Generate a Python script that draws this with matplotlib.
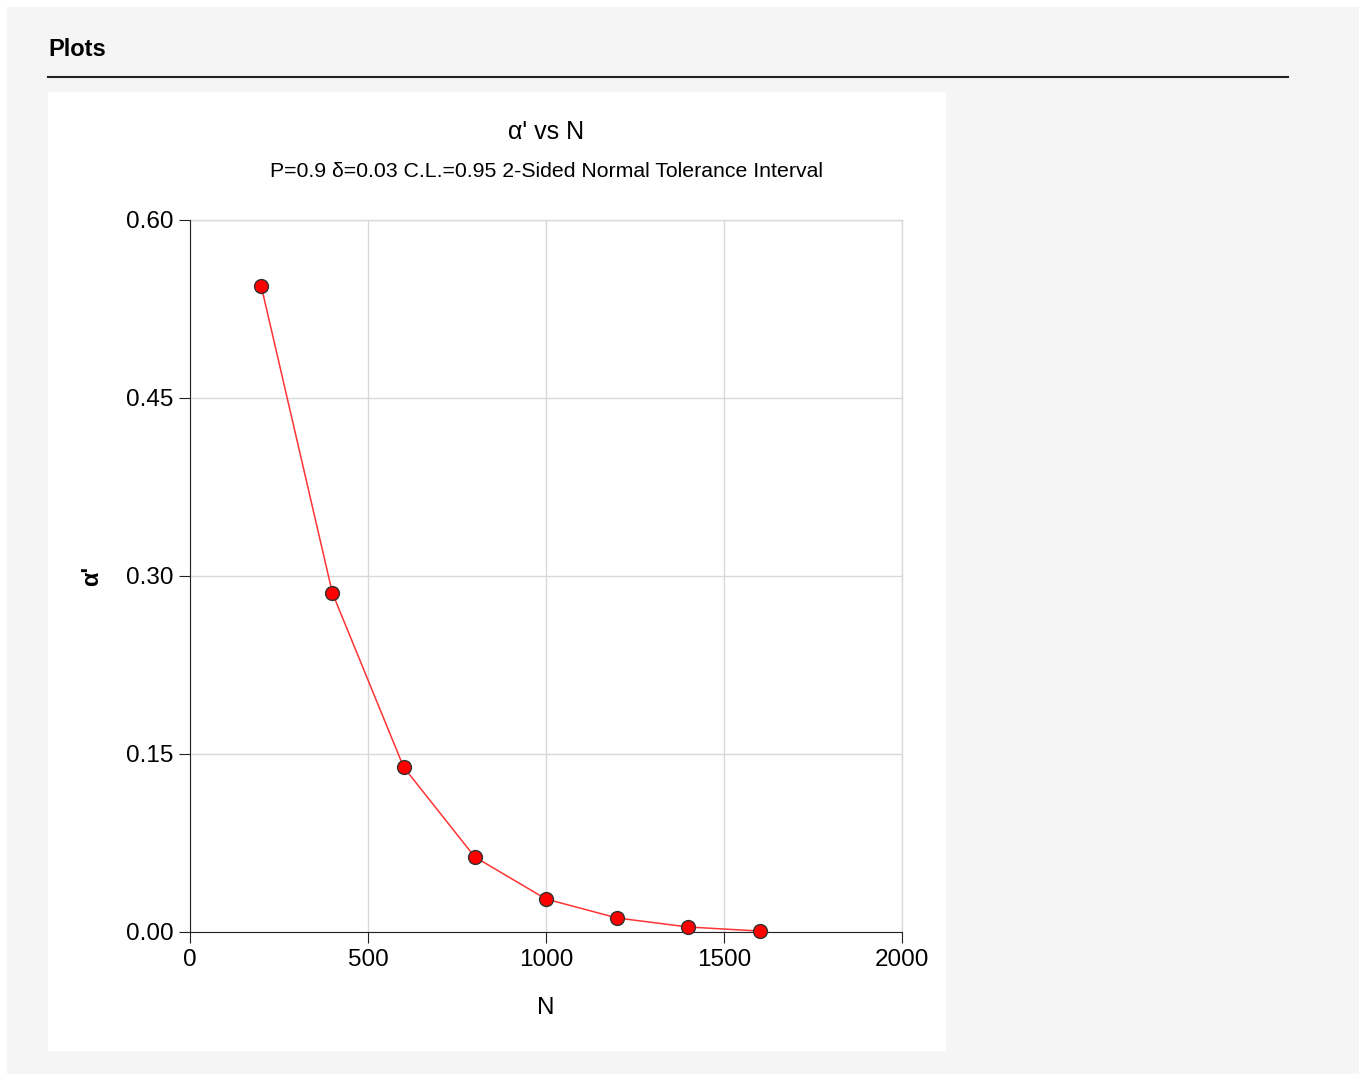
import matplotlib
matplotlib.use('Agg')
import matplotlib.pyplot as plt

# data
n_values = [200, 400, 600, 800, 1000, 1200, 1400, 1600]
alpha_values = [0.5444, 0.2857, 0.139, 0.0632, 0.0278, 0.0118, 0.0042, 0.0008]
x_ticks = [0, 500, 1000, 1500, 2000]
y_ticks = [0.00, 0.15, 0.30, 0.45, 0.60]

plt.rcParams['font.family'] = ['Liberation Sans', 'DejaVu Sans']

W, H = 1359, 1074
fig = plt.figure(figsize=(W / 100, H / 100), dpi=100)
fig.patch.set_facecolor('white')

# outer grey page and white panel
fig.patches.append(plt.Rectangle((7 / W, 0), 1 - 7 / W, 1 - 7 / H,
                                 transform=fig.transFigure, color='#f5f5f5', zorder=-3))
fig.patches.append(plt.Rectangle((48 / W, 1 - 1050 / H), (945 - 48) / W, (1050 - 92) / H,
                                 transform=fig.transFigure, color='white', zorder=-2))

fig.text(48 / W, 1 - 49 / H, 'Plots', fontsize=17, fontweight='bold', va='center', ha='left')
fig.add_artist(plt.Line2D([48 / W, 1288 / W], [1 - 77 / H, 1 - 77 / H],
                          transform=fig.transFigure, color='#222222', lw=1.5))

ax = fig.add_axes([190 / W, 1 - 932 / H, (902 - 190) / W, (932 - 220) / H])
ax.set_facecolor('white')
ax.plot(n_values, alpha_values, color='#ff3333', lw=1.1, zorder=3)
ax.plot(n_values, alpha_values, 'o', color='red', markeredgecolor='#333333',
        markersize=10, markeredgewidth=1, zorder=4, clip_on=False)

ax.set_xlim(0, 2000)
ax.set_ylim(0, 0.6)
ax.set_xticks(x_ticks)
ax.set_yticks(y_ticks)
ax.set_yticklabels([f'{v:.2f}' for v in y_ticks])
ax.grid(True, color='#d9d9d9', lw=1)
ax.axvline(2000, color='#d9d9d9', lw=1, clip_on=False, zorder=0)
ax.axhline(0.6, color='#d9d9d9', lw=1, clip_on=False, zorder=0)
ax.set_axisbelow(True)
for s in ['top', 'right']:
    ax.spines[s].set_visible(False)
for s in ['left', 'bottom']:
    ax.spines[s].set_color('#222222')
ax.tick_params(axis='both', labelsize=17.5, length=8, color='#222222', pad=4)

ax.set_xlabel('N', fontsize=17.5, labelpad=19)
ax.set_ylabel("α'", fontsize=17, fontweight='bold', labelpad=16)

fig.text(546 / W, 1 - 132 / H, "α' vs N", fontsize=18, ha='center', va='center')
fig.text(546 / W, 1 - 172 / H, 'P=0.9 δ=0.03 C.L.=0.95 2-Sided Normal Tolerance Interval',
         fontsize=15.3, ha='center', va='center')

fig.savefig('out.png', dpi=100)
